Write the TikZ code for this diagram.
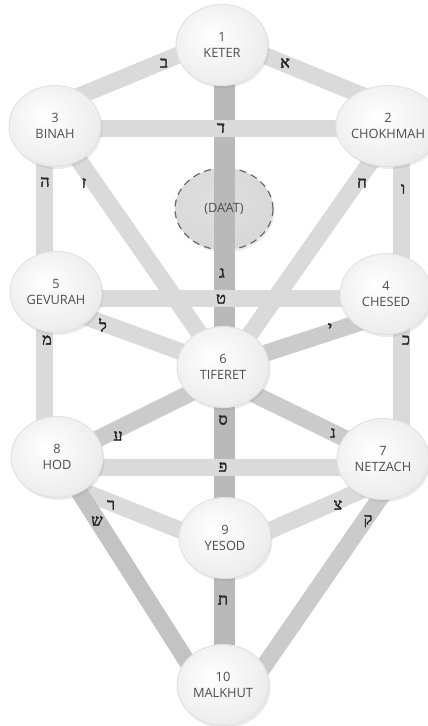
\documentclass[tikz,border=0pt]{standalone}
\usepackage{fontspec}
\setmainfont{Open Sans}
\newfontfamily\hebfont[Script=Hebrew, FakeBold=2.5]{Liberation Serif}
\usetikzlibrary{calc,shapes.geometric,shadows}

\definecolor{barlight}{HTML}{DADADA}
\definecolor{barmid}{HTML}{CBCBCB}
\definecolor{barshin}{HTML}{C3C3C3}
\definecolor{bardark}{HTML}{B9B9B9}
\definecolor{sephedge}{HTML}{D2D2D2}
\definecolor{sephmid}{HTML}{EEEEEE}
\definecolor{sephrim}{HTML}{E2E2E2}
\definecolor{sephtext}{HTML}{4E4E4E}
\definecolor{daatin}{HTML}{E0E0E0}
\definecolor{daatout}{HTML}{B4B4B4}
\definecolor{daatline}{HTML}{6A6A6A}
\definecolor{lettercol}{HTML}{262626}

\pgfdeclareradialshading{sephshade}{\pgfpoint{-6bp}{6bp}}%
  {color(0bp)=(white); color(26bp)=(sephmid); color(50bp)=(sephedge); color(62bp)=(sephedge)}
\pgfdeclareradialshading{daatshade}{\pgfpoint{-4bp}{6bp}}%
  {color(0bp)=(daatin); color(30bp)=(daatin!80!daatout); color(50bp)=(daatout); color(62bp)=(daatout)}

\pgfdeclarelayer{lowbars}
\pgfdeclarelayer{axisbar}
\pgfdeclarelayer{crossbars}
\pgfsetlayers{lowbars,axisbar,crossbars,main}

\tikzset{
  sephira/.style={ellipse, minimum width=92pt, minimum height=81pt, inner sep=0pt,
    shading=sephshade, draw=sephrim, line width=1pt, text=sephtext, align=center,
    font=\fontsize{12.8}{16}\selectfont,
    drop shadow={opacity=0.16, shadow xshift=1.5pt, shadow yshift=-2.5pt}},
  hidden/.style={ellipse, minimum width=98pt, minimum height=82pt, inner sep=0pt,
    shading=daatshade, draw=daatline, dashed, dash pattern=on 7pt off 5pt, line width=1.2pt,
    drop shadow={opacity=0.14, shadow xshift=1.5pt, shadow yshift=-2.5pt}},
  sephlabel/.style={text=sephtext, align=center, inner sep=0pt, font=\fontsize{12.8}{16}\selectfont},
  path/.style={line width=17pt, draw=barlight},
  pathmid/.style={line width=17pt, draw=barmid},
  pathaxis/.style={line width=21pt, draw=bardark},
  letter/.style={text=lettercol, inner sep=0pt, font=\hebfont\fontsize{16}{16}\selectfont}
}

\begin{document}
\begin{tikzpicture}[x=1pt, y=-1pt]
\useasboundingbox (0,0) rectangle (428,726);

% guide lines for the three pillars
\coordinate (axis) at (224,0);
\coordinate (pillarL) at (44,0);
\coordinate (pillarR) at (401,0);

% the ten sephirot
\node[sephira] (keter)    at (222,45)  {1\\KETER};
\node[sephira] (binah)    at (55,126)  {3\\BINAH};
\node[sephira] (chokhmah) at (388,126) {2\\CHOKHMAH};
\node[sephira] (gevurah)  at (56,292)  {5\\GEVURAH};
\node[sephira] (chesed)   at (386,294) {4\\CHESED};
\node[sephira] (tiferet)  at (223,367) {6\\TIFERET};
\node[sephira] (hod)      at (57,457)  {8\\HOD};
\node[sephira] (netzach)  at (383,459) {7\\NETZACH};
\node[sephira] (yesod)    at (225,538) {9\\YESOD};
\node[sephira] (malkhut)  at (223,685) {10\\MALKHUT};

% hidden sephira and the side / diagonal paths
\begin{pgfonlayer}{lowbars}
  \node[hidden] (daat) at (224,209) {};
  \draw[path] ($(binah.center)+(0,-20)$) -- ($(keter.center)+(0,-8)$);
  \draw[path] ($(chokhmah.center)+(0,-20)$) -- ($(keter.center)+(0,-7)$);
  \draw[path] (binah.center -| pillarL) -- (gevurah.center -| pillarL);
  \draw[path] (gevurah.center -| pillarL) -- (hod.center -| pillarL);
  \draw[path] (chokhmah.center -| pillarR) -- (chesed.center -| pillarR);
  \draw[path] (chesed.center -| pillarR) -- (netzach.center -| pillarR);
  \draw[path] (binah.center) -- (tiferet.center);
  \draw[path] ($(chokhmah.center)+(8,0)$) -- ($(tiferet.center)+(4,0)$);
  \draw[path] ($(gevurah.center)+(0,14)$) -- (tiferet.center);
  \draw[pathmid] ($(chesed.center)+(0,20)$) -- (tiferet.center);
  \draw[pathmid] ($(hod.center)+(0,2)$) -- ($(tiferet.center)+(0,10)$);
  \draw[pathmid] ($(tiferet.center)+(0,12)$) -- ($(netzach.center)+(0,-2)$);
  \draw[path] ($(hod.center)+(0,24)$) -- ($(yesod.center)+(0,10)$);
  \draw[path] ($(netzach.center)+(0,22)$) -- ($(yesod.center)+(0,12)$);
  \draw[path, draw=barshin] (hod.center) -- ($(malkhut.center)+(-21,0)$);
  \draw[pathmid] ($(netzach.center)+(24,0)$) -- ($(malkhut.center)+(28,0)$);
\end{pgfonlayer}

% middle pillar
\begin{pgfonlayer}{axisbar}
  \draw[pathaxis] (keter.center -| axis) -- (tiferet.center -| axis);
  \draw[pathaxis] (tiferet.center -| axis) -- (yesod.center -| axis);
  \draw[pathaxis] (yesod.center -| axis) -- (malkhut.center -| axis);
\end{pgfonlayer}

% horizontal paths crossing the middle pillar
\begin{pgfonlayer}{crossbars}
  \draw[path] ($(binah.center)+(0,2)$) -- ($(chokhmah.center)+(0,2)$);
  \draw[path] ($(gevurah.center)+(0,6)$) -- ($(chesed.center)+(0,4)$);
  \draw[path] ($(hod.center)+(0,10)$) -- ($(netzach.center)+(0,8)$);
\end{pgfonlayer}

\node[sephlabel] (daatname) at (daat) {(DA’AT)};

% Hebrew letters of the 22 paths
\node[letter] (l-aleph)  at (285,63)  {א};
\node[letter] (l-bet)    at (164,63)  {ב};
\node[letter] (l-gimel)  at (222,273) {ג};
\node[letter] (l-dalet)  at (221,128) {ד};
\node[letter] (l-he)     at (45,182)  {ה};
\node[letter] (l-vav)    at (403,189) {ו};
\node[letter] (l-zayin)  at (84,183)  {ז};
\node[letter] (l-chet)   at (362,183) {ח};
\node[letter] (l-tet)    at (221,299) {ט};
\node[letter] (l-yod)    at (330,328) {י};
\node[letter] (l-kaf)    at (406,340) {כ};
\node[letter] (l-lamed)  at (103,325) {ל};
\node[letter] (l-mem)    at (47,340)  {מ};
\node[letter] (l-nun)    at (333,433) {נ};
\node[letter] (l-samekh) at (223,420) {ס};
\node[letter] (l-ayin)   at (118,436) {ע};
\node[letter] (l-pe)     at (223,467) {פ};
\node[letter] (l-tsadi)  at (338,505) {צ};
\node[letter] (l-qof)    at (368,521) {ק};
\node[letter] (l-resh)   at (111,505) {ר};
\node[letter] (l-shin)   at (97,521)  {ש};
\node[letter] (l-tav)    at (223,600) {ת};
\end{tikzpicture}
\end{document}
